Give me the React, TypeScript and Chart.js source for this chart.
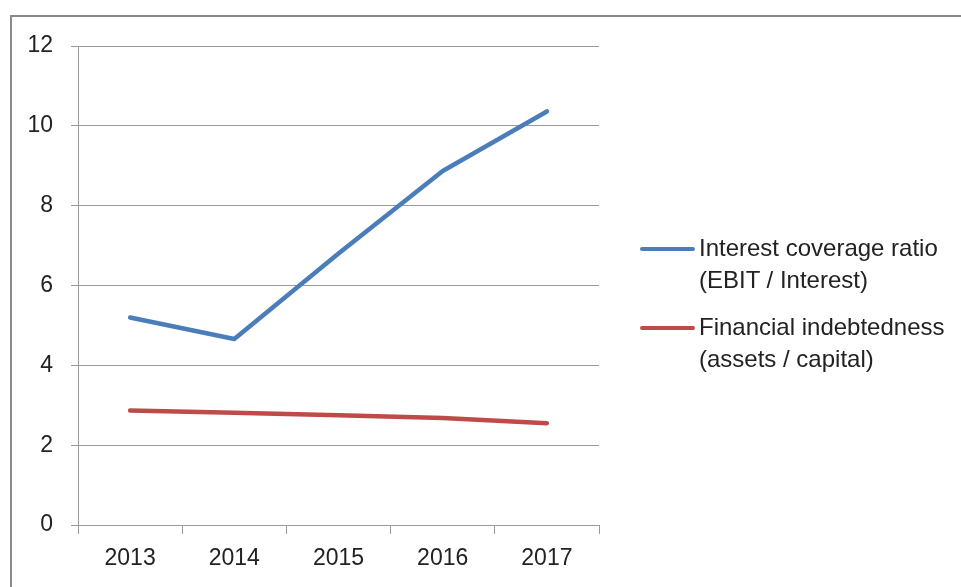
import React, { useEffect, useRef } from "react";
import { Chart, registerables } from "chart.js";

Chart.register(...registerables);

const years = ["2013", "2014", "2015", "2016", "2017"];
const interestCoverage = [5.2, 4.66, 6.8, 8.87, 10.36];
const financialIndebtedness = [2.87, 2.81, 2.75, 2.68, 2.55];
const seriesNames = [
  ["Interest coverage ratio", "(EBIT / Interest)"],
  ["Financial indebtedness", "(assets / capital)"],
];
const seriesColors = ["#4A7EBB", "#BE4B48"];

const FONT = "'Liberation Sans', Arial, sans-serif";

export default function App() {
  const ref = useRef<HTMLCanvasElement | null>(null);

  useEffect(() => {
    if (!ref.current) return;
    const chart = new Chart(ref.current, {
      type: "line",
      data: {
        labels: years,
        datasets: [
          {
            label: seriesNames[0].join(" "),
            data: interestCoverage,
            borderColor: seriesColors[0],
            backgroundColor: seriesColors[0],
            borderWidth: 4.5,
            pointRadius: 0,
            tension: 0,
            borderCapStyle: "round",
            borderJoinStyle: "round",
          },
          {
            label: seriesNames[1].join(" "),
            data: financialIndebtedness,
            borderColor: seriesColors[1],
            backgroundColor: seriesColors[1],
            borderWidth: 4.5,
            pointRadius: 0,
            tension: 0,
            borderCapStyle: "round",
            borderJoinStyle: "round",
          },
        ],
      },
      options: {
        animation: false,
        responsive: false,
        maintainAspectRatio: false,
        layout: { padding: { left: 0, top: 46, right: 362, bottom: 0 } },
        plugins: {
          legend: { display: false },
          tooltip: { enabled: false },
        },
        scales: {
          x: {
            offset: true,
            grid: {
              display: true,
              drawOnChartArea: false,
              drawTicks: true,
              tickLength: 9,
              color: "#9a9a9a",
              offset: true,
            },
            border: { display: true, color: "#9a9a9a", width: 1 },
            ticks: {
              color: "#222",
              font: { family: FONT, size: 23 },
              padding: 11,
              maxRotation: 0,
            },
            afterFit: (s: any) => {
              s.height = 62;
            },
          },
          y: {
            min: 0,
            max: 12,
            ticks: {
              stepSize: 2,
              color: "#222",
              font: { family: FONT, size: 23 },
              padding: 18,
            },
            grid: {
              color: "#9a9a9a",
              tickLength: 7,
              drawTicks: true,
            },
            border: { display: true, color: "#9a9a9a", width: 1 },
            afterFit: (s: any) => {
              s.width = 78;
            },
          },
        },
      },
    });
    return () => chart.destroy();
  }, []);

  return (
    <div
      style={{
        position: "fixed",
        left: 0,
        top: 0,
        width: 961,
        height: 587,
        background: "#fff",
        overflow: "hidden",
      }}
    >
      <div
        style={{
          position: "absolute",
          left: 10,
          top: 15,
          width: 960,
          height: 600,
          borderLeft: "2px solid #8a8a8a",
          borderTop: "2px solid #8a8a8a",
          boxSizing: "border-box",
        }}
      />
      <canvas
        ref={ref}
        width={961}
        height={587}
        style={{ position: "absolute", left: 0, top: 0, width: 961, height: 587 }}
      />
      {seriesNames.map((lines, i) => (
        <div
          key={i}
          style={{
            position: "absolute",
            left: 640,
            top: i === 0 ? 232 : 311,
            display: "flex",
            alignItems: "flex-start",
            fontFamily: FONT,
            fontSize: 24,
            lineHeight: "32px",
            color: "#222",
          }}
        >
          <div
            style={{
              width: 55,
              height: 4,
              borderRadius: 2,
              background: seriesColors[i],
              marginTop: 15,
              marginRight: 4,
            }}
          />
          <div>
            {lines.map((t, j) => (
              <div key={j} style={{ whiteSpace: "nowrap" }}>
                {t}
              </div>
            ))}
          </div>
        </div>
      ))}
    </div>
  );
}
